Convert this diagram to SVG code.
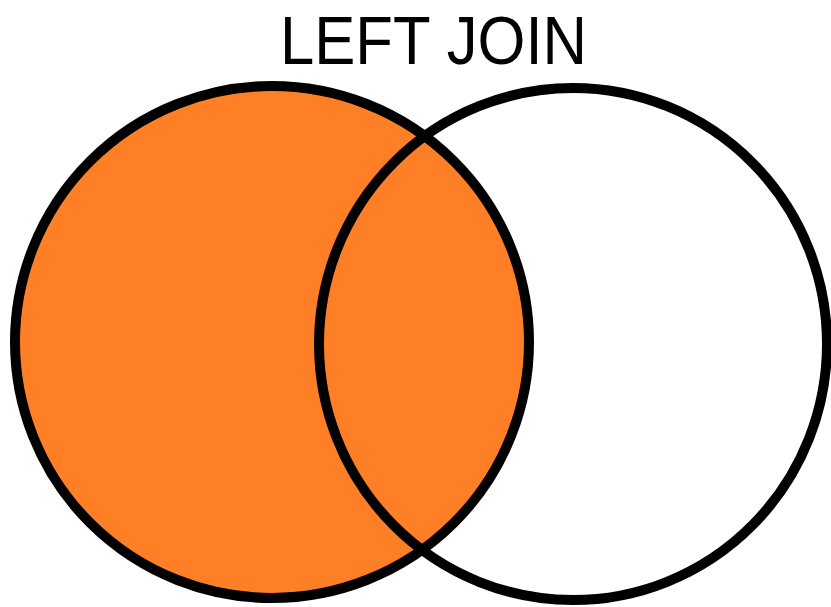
<svg xmlns="http://www.w3.org/2000/svg" width="831" height="607" viewBox="0 0 831 607">
<style>
.ring{fill:none;stroke:#000;stroke-width:10}
.title{font-family:"Liberation Sans",Arial,sans-serif;font-size:69px;fill:#000}
</style>
<rect width="831" height="607" fill="#fff"/>
<text class="title" x="280" y="64" textLength="307" lengthAdjust="spacingAndGlyphs">LEFT JOIN</text>
<g id="left-set">
<ellipse cx="272" cy="342" rx="257" ry="256" fill="#ff7f27"/>
</g>
<g id="rings">
<ellipse class="ring" cx="272" cy="342" rx="257" ry="256"/>
<ellipse class="ring" cx="573" cy="344" rx="254" ry="256"/>
</g>
</svg>
